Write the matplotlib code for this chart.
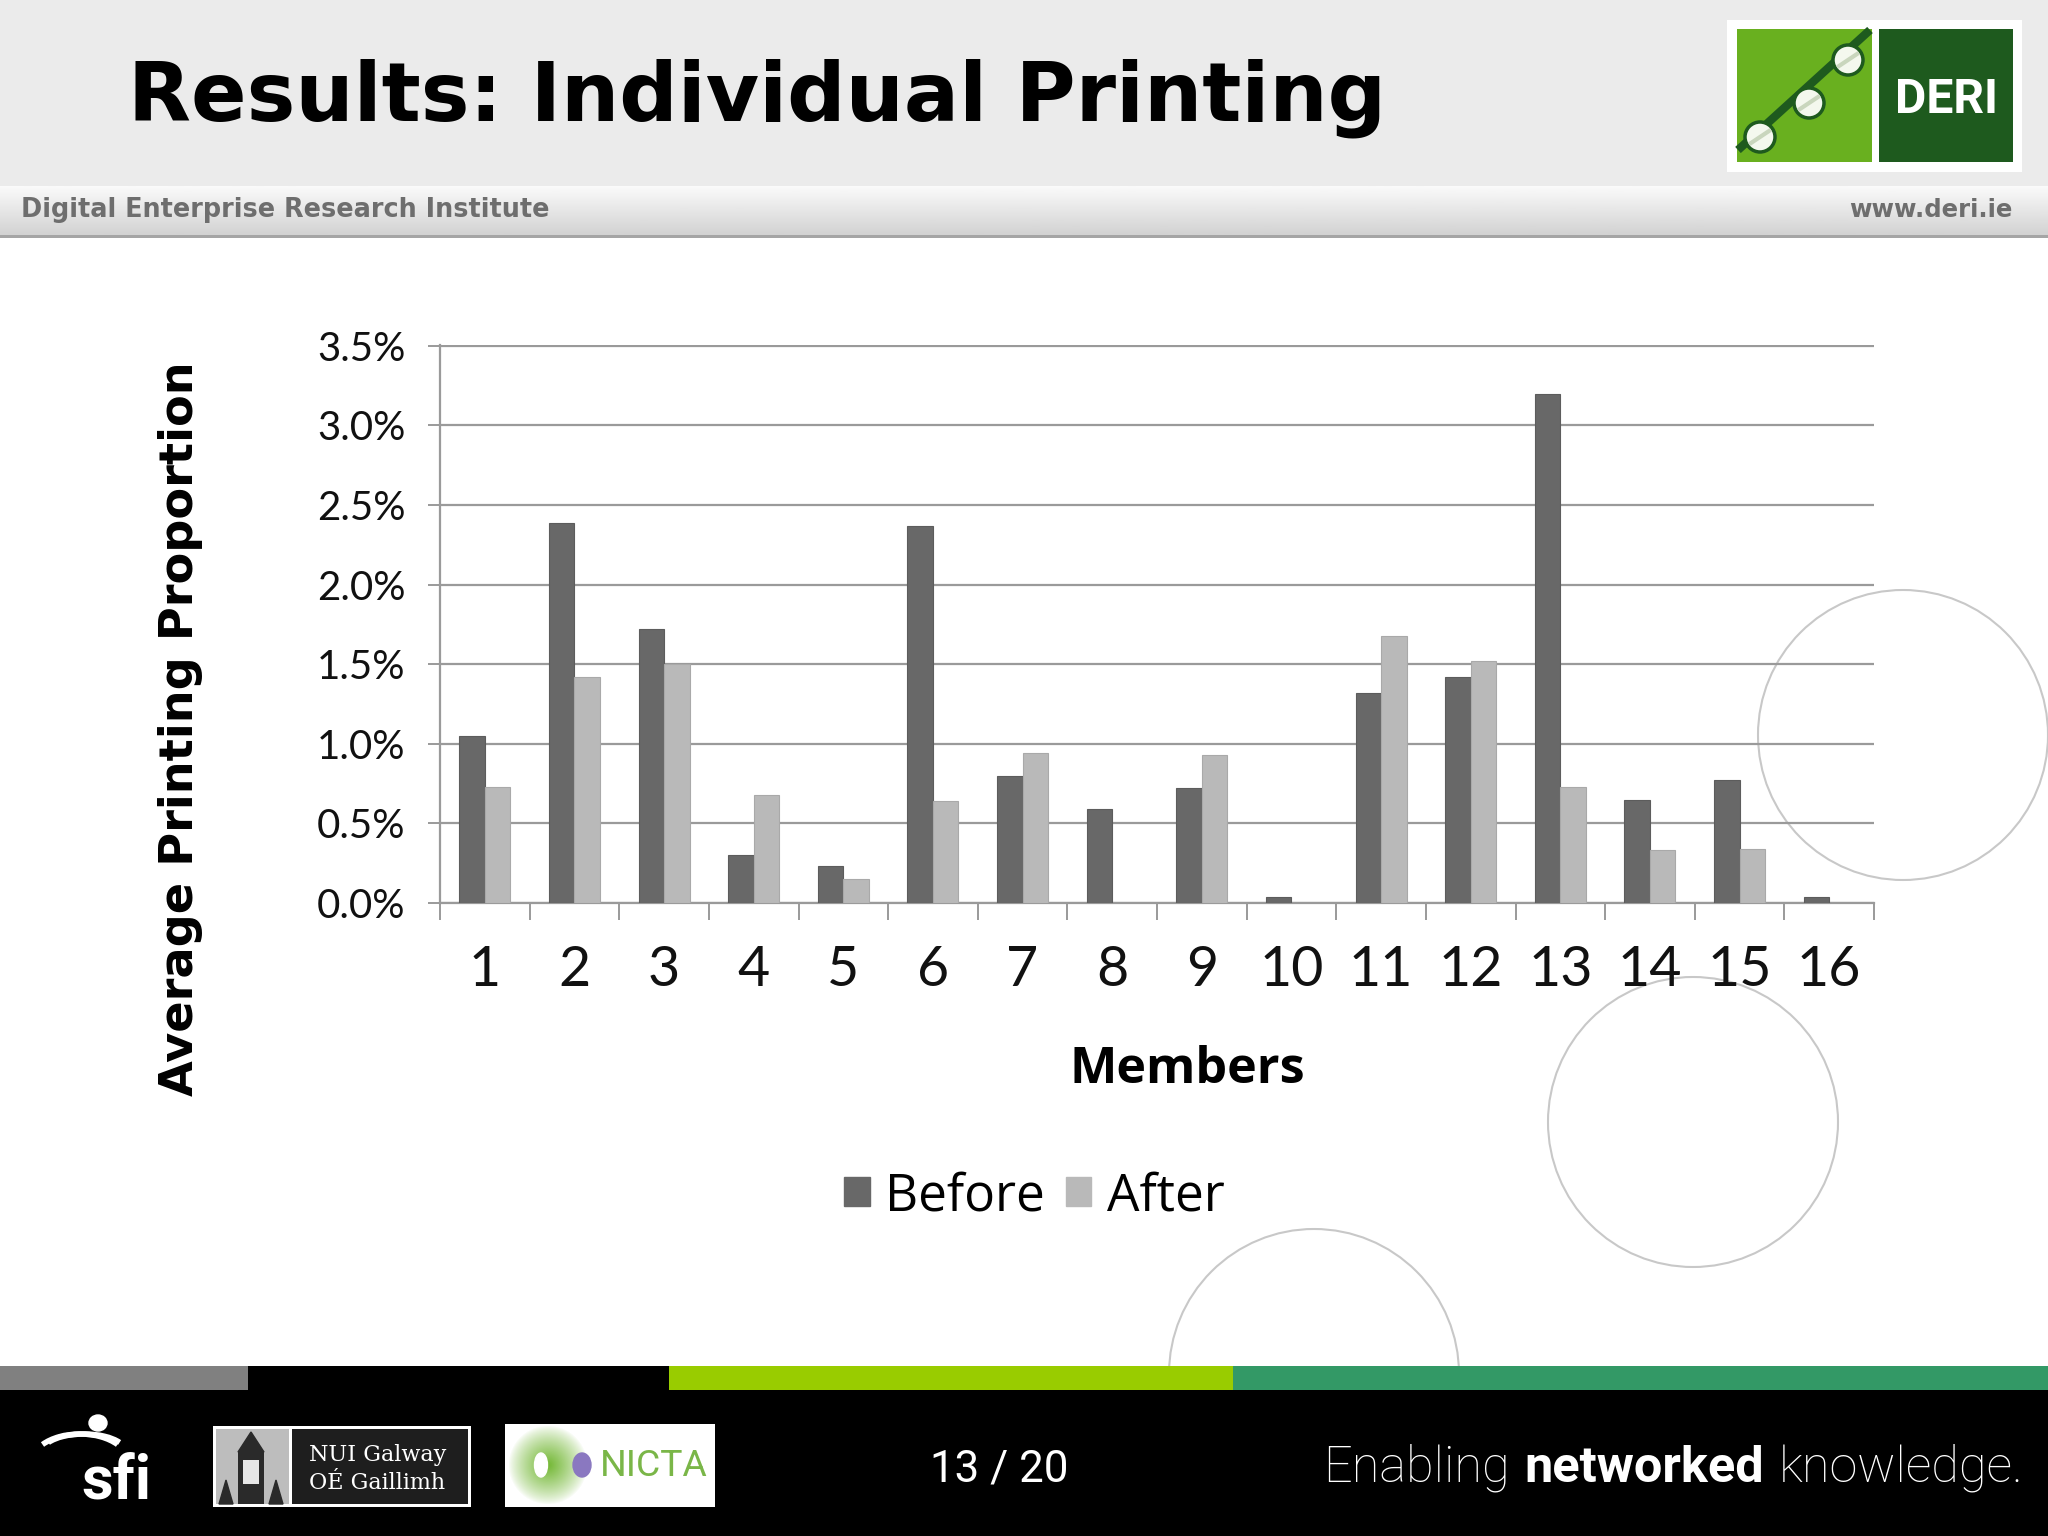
"""Slide: Results: Individual Printing (before/after bar chart)."""

import matplotlib
matplotlib.use("Agg")
import matplotlib.pyplot as plt
import numpy as np
from matplotlib.patches import Rectangle, Circle, Ellipse, Patch, Arc
from matplotlib.ticker import FuncFormatter

# Data (percent).
members = [str(i) for i in range(1, 17)]
before = [1.05, 2.39, 1.72, 0.30, 0.23, 2.37, 0.80, 0.59,
          0.72, 0.035, 1.32, 1.42, 3.20, 0.65, 0.77, 0.035]
after = [0.73, 1.42, 1.50, 0.68, 0.15, 0.64, 0.94, 0.0,
         0.93, 0.0, 1.68, 1.52, 0.73, 0.33, 0.34, 0.0]
y_ticks = [0.0, 0.5, 1.0, 1.5, 2.0, 2.5, 3.0, 3.5]

BEFORE_COLOR = "#686868"
AFTER_COLOR = "#b9b9b9"
GRID_COLOR = "#9a9a9a"
NARROW = ["Roboto", "DejaVu Sans"]

W, H = 2048, 1536
fig = plt.figure(figsize=(W / 100, H / 100), dpi=100)
fig.patch.set_facecolor("white")
renderer = fig.canvas.get_renderer()


def fit(text, target, vertical=False):
    """Scales the font size of a text so that it spans target pixels."""
    bb = text.get_window_extent(renderer)
    size = bb.height if vertical else bb.width
    text.set_fontsize(text.get_fontsize() * target / size)
    return text


# Slide background drawn in pixel coordinates.
bg = fig.add_axes([0, 0, 1, 1], zorder=0)
bg.set_xlim(0, W)
bg.set_ylim(H, 0)
bg.axis("off")

# Header band.
bg.add_patch(Rectangle((0, 0), W, 186, color="#ebebeb", lw=0))
grad = np.linspace(0.98, 0.82, 64).reshape(-1, 1)
bg.imshow(grad, cmap="gray", vmin=0, vmax=1, extent=[0, W, 236, 186],
          aspect="auto", zorder=1)
bg.set_xlim(0, W)
bg.set_ylim(H, 0)
bg.add_patch(Rectangle((0, 235), W, 3, color="#a5a5a5", lw=0, zorder=2))
fit(bg.text(128, 98, "Results: Individual Printing", fontsize=68,
            fontweight="bold", family="DejaVu Sans",
            ha="left", va="center", color="black", zorder=3), 1259)
fit(bg.text(21, 210, "Digital Enterprise Research Institute", fontsize=21,
            fontweight="bold", family="DejaVu Sans",
            ha="left", va="center", color="#6e6e6e", zorder=3), 528)
fit(bg.text(2013, 210, "www.deri.ie", fontsize=21, fontweight="bold",
            family="DejaVu Sans",
            ha="right", va="center", color="#6e6e6e", zorder=3), 164)

# DERI logo.
bg.add_patch(Rectangle((1727, 20), 295, 152, color="white", lw=0, zorder=3))
bg.add_patch(Rectangle((1737, 29), 135, 133, color="#69b01f", lw=0, zorder=4))
bg.add_patch(Rectangle((1879, 29), 134, 133, color="#1e5a1e", lw=0, zorder=4))
bg.plot([1738, 1870], [150, 30], color="#1e5a1e", lw=6, zorder=5,
        solid_capstyle="butt")
for cx, cy in [(1760, 137), (1809, 103), (1848, 60)]:
    bg.add_patch(Circle((cx, cy), 15, facecolor="#f4f8ee",
                        edgecolor="#1e5a1e", lw=2.5, zorder=6))
    bg.plot([cx - 9, cx + 9], [cy + 6, cy - 6], color="#c9d6bd", lw=3,
            zorder=7)
fit(bg.text(1947, 100, "DERI", fontsize=36, fontweight="bold", family=NARROW,
            color="white", ha="center", va="center", zorder=6), 103)

# Decorative circles.
for cx, cy in [(1903, 735), (1693, 1122), (1314, 1374)]:
    bg.add_patch(Circle((cx, cy), 145, facecolor="none",
                        edgecolor="#c8c8c8", lw=1.5, zorder=2))

# Footer strip and black band.
for x0, x1, c in [(0, 248, "#808080"), (248, 669, "black"),
                  (669, 1233, "#99cc00"), (1233, W, "#339966")]:
    bg.add_patch(Rectangle((x0, 1366), x1 - x0, 25, color=c, lw=0, zorder=5))
bg.add_patch(Rectangle((0, 1390), W, H - 1390, color="black", lw=0, zorder=5))

# sfi logo.
bg.add_patch(Ellipse((98, 1423), 18, 16, color="white", zorder=6))
bg.add_patch(Arc((80, 1462), 96, 56, theta1=205, theta2=335, color="white",
                 lw=4, zorder=6))
bg.add_patch(Arc((84, 1452), 84, 36, theta1=195, theta2=345, color="white",
                 lw=4, zorder=6))
fit(bg.text(116, 1482, "sfi", fontsize=46, fontweight="bold", family=NARROW,
            color="white", ha="center", va="center", zorder=6), 70)

# NUI Galway logo.
bg.add_patch(Rectangle((213, 1426), 258, 81, color="white", lw=0, zorder=6))
bg.add_patch(Rectangle((216, 1429), 73, 75, color="#bdbdbd", lw=0, zorder=7))
bg.add_patch(Rectangle((292, 1429), 176, 75, color="#1e1e1e", lw=0, zorder=7))
bg.add_patch(Rectangle((238, 1452), 26, 52, color="#2a2a2a", lw=0, zorder=8))
bg.fill([238, 251, 264], [1452, 1432, 1452], color="#2a2a2a", zorder=8)
bg.fill([219, 226, 233, 233, 219], [1504, 1480, 1504, 1504, 1504],
        color="#2a2a2a", zorder=8)
bg.fill([269, 276, 283], [1504, 1480, 1504], color="#2a2a2a", zorder=8)
bg.add_patch(Rectangle((243, 1460), 16, 24, color="#e6e6e6", lw=0, zorder=9))
bg.text(309, 1455, "NUI Galway", fontsize=16, family="DejaVu Serif",
        color="white", ha="left", va="center", zorder=9)
bg.text(309, 1483, "OÉ Gaillimh", fontsize=16, family="DejaVu Serif",
        color="white", ha="left", va="center", zorder=9)

# NICTA logo.
bg.add_patch(Rectangle((505, 1424), 210, 83, color="white", lw=0, zorder=6))
yy, xx = np.mgrid[-1:1:80j, -1:1:80j]
rr = np.sqrt(xx ** 2 + yy ** 2)
glow = np.zeros((80, 80, 4))
glow[..., 0], glow[..., 1], glow[..., 2] = 0.45, 0.72, 0.2
glow[..., 3] = np.clip(1.0 - rr, 0, 1) ** 0.8
bg.imshow(glow, extent=[508, 588, 1505, 1425], aspect="auto", zorder=7)
bg.set_xlim(0, W)
bg.set_ylim(H, 0)
bg.add_patch(Ellipse((541, 1465), 13, 24, color="white", zorder=8))
bg.add_patch(Ellipse((582, 1465), 18, 24, color="#8a78c0", zorder=8))
fit(bg.text(600, 1466, "NICTA", fontsize=27, family=NARROW, color="#7ab648",
            ha="left", va="center", zorder=8), 108)

# Footer text.
fit(bg.text(999, 1470, "13 / 20", fontsize=33, family=NARROW, color="white",
            ha="center", va="center", zorder=8), 139)
words = [("Enabling", "light"), ("networked", "bold"),
         ("knowledge.", "light")]
tagline = [bg.text(0, 1468, w, fontsize=38, family=NARROW, fontweight=fw,
                   color="white", ha="left", va="center", zorder=8)
           for w, fw in words]
widths = [t.get_window_extent(renderer).width for t in tagline]
gap = 0.3 * 38 / 72 * 100
scale = 701 / (sum(widths) + 2 * gap)
xpos = 1323
for t, w in zip(tagline, widths):
    t.set_fontsize(38 * scale)
    t.set_x(xpos)
    xpos += (w + gap) * scale

# Chart.
ax = fig.add_axes([440 / W, 1 - 903 / H, 1434 / W, 558 / H], zorder=2)
ax.patch.set_alpha(0)
x = np.arange(1, len(members) + 1)
bw = 0.285
ax.bar(x - bw / 2, before, bw, color=BEFORE_COLOR,
       edgecolor="#5c5c5c", linewidth=0.8, zorder=3)
ax.bar(x + bw / 2, after, bw, color=AFTER_COLOR,
       edgecolor="#a9a9a9", linewidth=0.8, zorder=3)

ax.set_xlim(0.5, len(members) + 0.5)
ax.set_ylim(0, 3.505)
ax.set_yticks(y_ticks)
ax.yaxis.set_major_formatter(FuncFormatter(lambda v, _: f"{v:.1f}%"))
ax.grid(axis="y", color=GRID_COLOR, lw=1.6, zorder=0)
ax.set_axisbelow(True)
for s in ["top", "right"]:
    ax.spines[s].set_visible(False)
for s in ["left", "bottom"]:
    ax.spines[s].set_color(GRID_COLOR)
    ax.spines[s].set_linewidth(1.6)

ax.set_xticks(x)
ax.set_xticklabels(members)
ax.set_xticks(np.arange(0.5, len(members) + 1), minor=True)
ax.tick_params(axis="x", which="major", length=0, pad=30, labelsize=40)
ax.tick_params(axis="x", which="minor", length=12, width=1.4,
               color=GRID_COLOR)
ax.tick_params(axis="y", length=9, width=1.4, color=GRID_COLOR, pad=16,
               labelsize=29)
for lab in ax.get_xticklabels() + ax.get_yticklabels():
    lab.set_family(["Lato", "DejaVu Sans"])
    lab.set_color("#111111")

xl = ax.set_xlabel("Members", fontsize=39, fontweight="bold",
                   family=["Open Sans", "DejaVu Sans"])
ax.xaxis.set_label_coords(0.521, -0.254)
fit(xl, 236)
yl = ax.set_ylabel("Average Printing Proportion", fontsize=40,
                   fontweight="bold", family=["DejaVu Sans"])
ax.yaxis.set_label_coords(-0.165, 0.312)
fit(yl, 734, vertical=True)

handles = [Patch(facecolor=BEFORE_COLOR, edgecolor=BEFORE_COLOR),
           Patch(facecolor=AFTER_COLOR, edgecolor=AFTER_COLOR)]
fig.legend(handles, ["Before", "After"], loc="center",
           bbox_to_anchor=(0.505, 0.221), ncol=2, frameon=False,
           prop={"family": ["Open Sans", "DejaVu Sans"], "size": 37},
           handlelength=0.5, handleheight=0.5, handletextpad=0.3,
           columnspacing=0.4)

fig.savefig("out.png", dpi=100)
